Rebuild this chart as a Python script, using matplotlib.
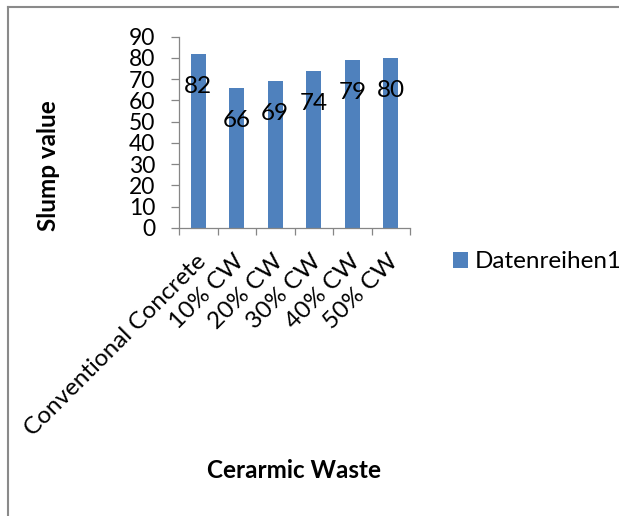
import matplotlib
matplotlib.use("Agg")
import matplotlib.pyplot as plt
import matplotlib.transforms as mtransforms
from matplotlib.lines import Line2D
import numpy as np

plt.rcParams['font.family'] = ['Lato', 'DejaVu Sans']

categories = ["Conventional Concrete", "10% CW", "20% CW", "30% CW", "40% CW", "50% CW"]
slump = [82, 66, 69, 74, 79, 80]
yticks = [0, 10, 20, 30, 40, 50, 60, 70, 80, 90]
series_name = "Datenreihen1"

W, H = 619, 516
BAR = "#4F81BD"
AXIS = "#868686"
FS = 17.5

fig = plt.figure(figsize=(W / 100, H / 100), dpi=100)
ax = fig.add_axes([179 / W, 1 - 228 / H, (410 - 179) / W, (228 - 36.7) / H])

x = np.arange(len(categories))
bars = ax.bar(x, slump, width=0.4, color=BAR, label=series_name, zorder=2)

# value labels inside the top of each bar
for xi, v in zip(x, slump):
    ax.annotate(str(v), (xi, v), xytext=(0, -28), textcoords="offset points",
                ha="center", va="baseline", fontsize=FS, color="black")

ax.set_xlim(-0.5, len(categories) - 0.5)
ax.set_ylim(0, 90)
ax.set_yticks(yticks)
ax.tick_params(axis="y", direction="out", length=6, width=0.9, color=AXIS,
               labelsize=16.5, pad=11)

# category boundary ticks, labels at category centres
ax.set_xticks(np.arange(len(categories) + 1) - 0.5)
ax.set_xticklabels([])
ax.tick_params(axis="x", which="major", direction="out", length=5, width=0.9, color=AXIS)
ax.set_xticks(x, minor=True)
ax.set_xticklabels(categories, minor=True, rotation=45, ha="right",
                   rotation_mode="anchor", fontsize=FS)
ax.tick_params(axis="x", which="minor", length=0, pad=16)
shift = mtransforms.ScaledTranslation(-3 / 100, 0, fig.dpi_scale_trans)
for lbl in ax.get_xticklabels(minor=True):
    lbl.set_transform(lbl.get_transform() + shift)

for s in ["top", "right"]:
    ax.spines[s].set_visible(False)
for s in ["left", "bottom"]:
    ax.spines[s].set_color(AXIS)
    ax.spines[s].set_linewidth(0.9)

fig.text(48 / W, 1 - 166 / H, "Slump value", rotation=90, ha="center", va="center",
         fontsize=FS, fontweight="bold")
fig.text(294 / W, 1 - 470 / H, "Cerarmic Waste", ha="center", va="center",
         fontsize=FS, fontweight="bold")

fig.legend(handles=[bars], labels=[series_name], loc="center left",
           bbox_to_anchor=(453 / W, 1 - 262 / H), frameon=False, fontsize=FS,
           handlelength=0.6, handleheight=0.6, handletextpad=0.3,
           borderpad=0, borderaxespad=0)

# chart area border (top and left edges)
fig.add_artist(Line2D([8 / W, 8 / W], [0, 1 - 7 / H], color="#8a8a8a", lw=1.5,
                      transform=fig.transFigure))
fig.add_artist(Line2D([8 / W, 1], [1 - 7 / H, 1 - 7 / H], color="#8a8a8a", lw=1.5,
                      transform=fig.transFigure))

fig.savefig("out.png", dpi=100)
